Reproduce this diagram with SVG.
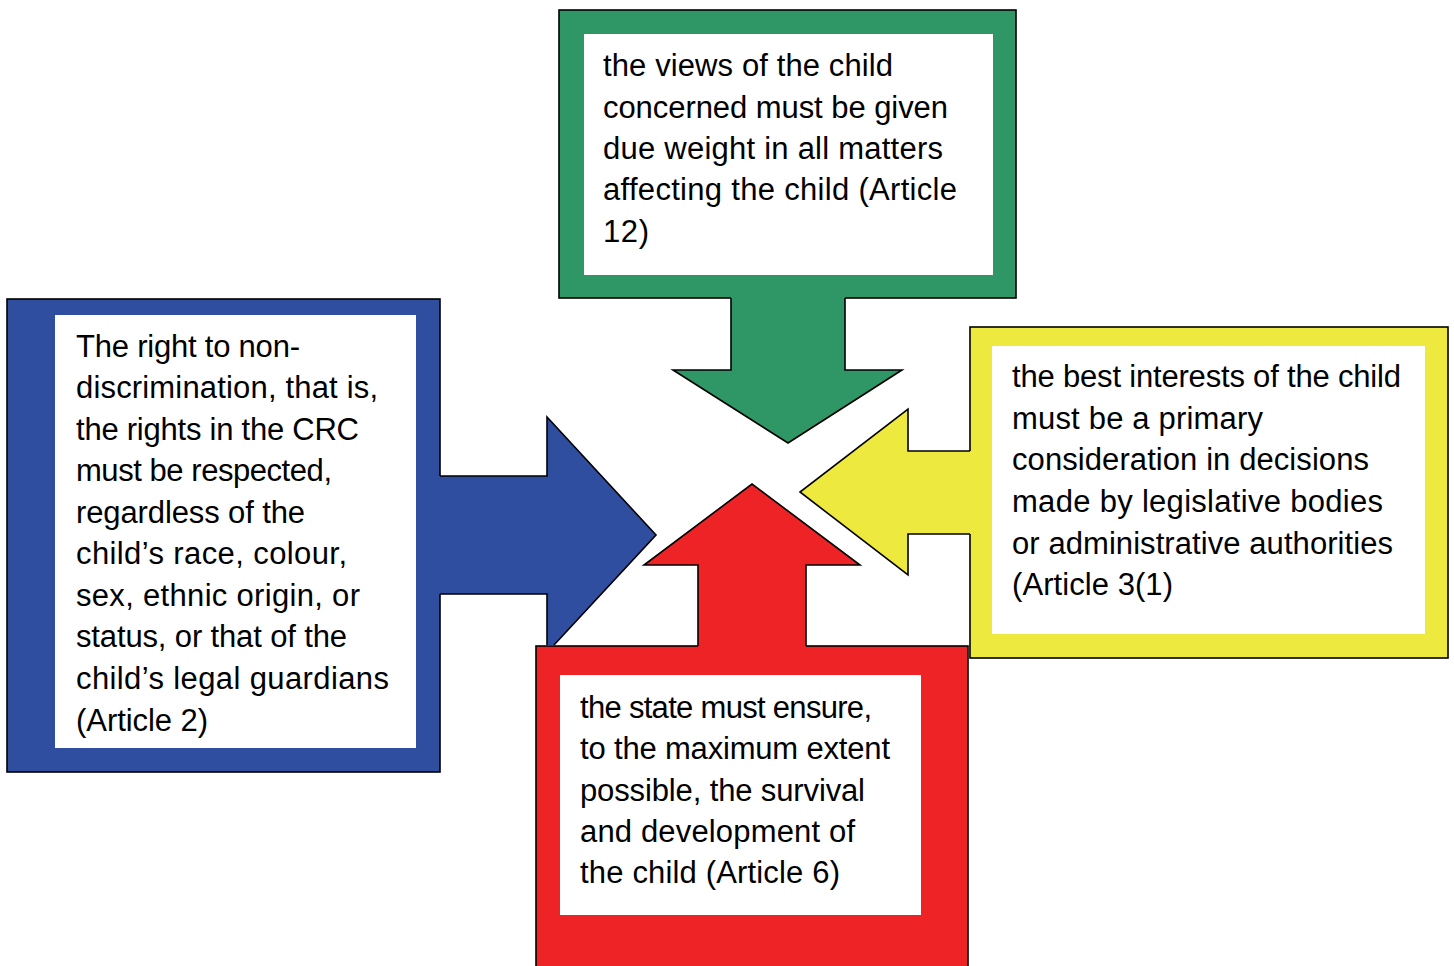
<svg xmlns="http://www.w3.org/2000/svg" width="1454" height="966" viewBox="0 0 1454 966">
<style>
.box{stroke:#000;stroke-width:1.6}
.ln{fill:none;stroke:#000;stroke-width:1.6;stroke-linejoin:miter}
.inner{fill:#fff}
.g{fill:#2F9665}
.b{fill:#2F4EA0}
.y{fill:#EEE93F}
.r{fill:#EE2325}
text{font-family:"Liberation Sans",Arial,sans-serif;font-size:31px;fill:#000}
</style>
<rect width="1454" height="966" fill="#fff"/>
<g id="node-views">
<rect class="box g" x="559" y="10" width="457" height="288"/>
<rect class="inner" x="584" y="34" width="409" height="241"/>
<text x="603" y="76" textLength="290" lengthAdjust="spacing">the views of the child</text>
<text x="603" y="118" textLength="345" lengthAdjust="spacing">concerned must be given</text>
<text x="603" y="159" textLength="340" lengthAdjust="spacing">due weight in all matters</text>
<text x="603" y="200" textLength="354" lengthAdjust="spacing">affecting the child (Article</text>
<text x="603" y="242" textLength="46" lengthAdjust="spacing">12)</text>
</g>
<g id="node-nondiscrimination">
<rect class="box b" x="7" y="299" width="433" height="473"/>
<rect class="inner" x="55" y="315" width="361" height="433"/>
<text x="76" y="357" textLength="224" lengthAdjust="spacing">The right to non-</text>
<text x="76" y="398" textLength="302" lengthAdjust="spacing">discrimination, that is,</text>
<text x="76" y="440" textLength="283" lengthAdjust="spacing">the rights in the CRC</text>
<text x="76" y="481" textLength="256" lengthAdjust="spacing">must be respected,</text>
<text x="76" y="523" textLength="229" lengthAdjust="spacing">regardless of the</text>
<text x="76" y="564" textLength="271" lengthAdjust="spacing">child’s race, colour,</text>
<text x="76" y="606" textLength="284" lengthAdjust="spacing">sex, ethnic origin, or</text>
<text x="76" y="647" textLength="271" lengthAdjust="spacing">status, or that of the</text>
<text x="76" y="689" textLength="313" lengthAdjust="spacing">child’s legal guardians</text>
<text x="76" y="731" textLength="132" lengthAdjust="spacing">(Article 2)</text>
</g>
<g id="node-best-interests">
<rect class="box y" x="970" y="327" width="478" height="331"/>
<rect class="inner" x="992" y="346" width="433" height="288"/>
<text x="1012" y="387" textLength="389" lengthAdjust="spacing">the best interests of the child</text>
<text x="1012" y="429" textLength="251" lengthAdjust="spacing">must be a primary</text>
<text x="1012" y="470" textLength="357" lengthAdjust="spacing">consideration in decisions</text>
<text x="1012" y="512" textLength="371" lengthAdjust="spacing">made by legislative bodies</text>
<text x="1012" y="554" textLength="381" lengthAdjust="spacing">or administrative authorities</text>
<text x="1012" y="595" textLength="161" lengthAdjust="spacing">(Article 3(1)</text>
</g>
<g id="node-survival">
<rect class="box r" x="536" y="646" width="432" height="330"/>
<rect class="inner" x="560" y="675" width="361" height="240"/>
<text x="580" y="718" textLength="292" lengthAdjust="spacing">the state must ensure,</text>
<text x="580" y="759" textLength="310" lengthAdjust="spacing">to the maximum extent</text>
<text x="580" y="801" textLength="285" lengthAdjust="spacing">possible, the survival</text>
<text x="580" y="842" textLength="275" lengthAdjust="spacing">and development of</text>
<text x="580" y="883" textLength="260" lengthAdjust="spacing">the child (Article 6)</text>
</g>
<g id="connectors">
<path class="g" d="M731,296 V370 H673 L788,443 L902,370 H845 V296 Z"/>
<path class="ln" d="M731,298 V370 H673 L788,443 L902,370 H845 V298"/>
<path class="b" d="M438,476 H547 V417 L656,535 L554,645 L547,645 V594 H438 Z"/>
<path class="ln" d="M440,476 H547 V417 L656,535 L554,645 M547,645 V594 H440"/>
<path class="y" d="M972,451 H908 V409 L800,492 L908,575 V534 H972 Z"/>
<path class="ln" d="M970,451 H908 V409 L800,492 L908,575 V534 H970"/>
<path class="r" d="M698,648 V565 H644 L752,484 L860,565 H806 V648 Z"/>
<path class="ln" d="M698,646 V565 H644 L752,484 L860,565 H806 V646"/>
</g>
</svg>
